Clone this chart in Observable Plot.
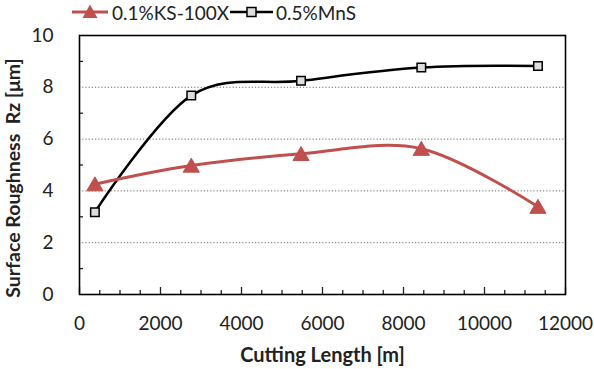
<!DOCTYPE html>
<html>
<head>
<meta charset="utf-8">
<script src="https://cdn.jsdelivr.net/npm/d3@7"></script>
<script src="https://cdn.jsdelivr.net/npm/@observablehq/plot@0.6"></script>
<style>
  body { margin: 0; background: #fff; font-family: Lato, "Open Sans", sans-serif; }
  #legend { position: relative; height: 24px; width: 594px; font-size: 19px; color: #222; }
  #legend .item { position: absolute; top: 0; height: 24px; display: flex; align-items: center; }
  #legend svg { display: block; }
</style>
</head>
<body>
<div id="legend"></div>
<div id="chart"></div>
<script>
// Data
const cuttingLength = [380, 2760, 5470, 8440, 11320];
const ks100x = [4.26, 4.98, 5.43, 5.63, 3.39];
const mns = [3.18, 7.68, 8.25, 8.76, 8.82];
const seriesNames = ["0.1%KS-100X", "0.5%MnS"];
const xTickValues = [0, 2000, 4000, 6000, 8000, 10000, 12000];
const xMinorTicks = d3.range(500, 12000, 500).filter(v => v % 2000 !== 0);
const yTickValues = [0, 2, 4, 6, 8, 10];
const yGridValues = [2, 4, 6, 8];
const yMinorTicks = [1, 3, 5, 7, 9];
const xTitle = "Cutting Length [m]";
const yTitle = "Surface Roughness  Rz [μm]";

const red = "#c0504d";

const ksData = cuttingLength.map((x, i) => ({x, y: ks100x[i]}));
const mnsData = cuttingLength.map((x, i) => ({x, y: mns[i]}));

// Legend (HTML above the SVG)
const legend = document.getElementById("legend");
legend.innerHTML = `
  <div class="item" style="left:71px">
    <svg width="38" height="24"><line x1="1" x2="37" y1="12" y2="12" stroke="${red}" stroke-width="3"/>
    <polygon points="19,4.5 26.5,18 11.5,18" fill="${red}"/></svg>
    <span style="margin-left:3px">${seriesNames[0]}</span>
  </div>
  <div class="item" style="left:229px">
    <svg width="45" height="24"><line x1="1" x2="44" y1="12" y2="12" stroke="#000" stroke-width="2.5"/>
    <rect x="18" y="7.5" width="9" height="9" fill="#ddd" stroke="#000" stroke-width="1.5"/></svg>
    <span style="margin-left:2px">${seriesNames[1]}</span>
  </div>`;

const chart = Plot.plot({
  width: 594,
  height: 345,
  marginTop: 11,
  marginBottom: 75,
  marginLeft: 79,
  marginRight: 29,
  style: {fontFamily: "Lato, 'Open Sans', sans-serif", fontSize: "19px", color: "#222", background: "#fff"},
  x: {domain: [0, 12000]},
  y: {domain: [0, 10]},
  marks: [
    Plot.gridY(yGridValues, {stroke: "#8c8c8c", strokeOpacity: 1, strokeWidth: 1.2, strokeDasharray: "1.2,2"}),
    Plot.axisX(xTickValues, {tickSize: 0, tickPadding: 22, tickFormat: d => String(d), label: null}),
    Plot.axisX(xTickValues, {tickSize: -7, tickFormat: () => "", label: null, strokeWidth: 1.3}),
    Plot.axisX(xMinorTicks, {tickSize: -4, tickFormat: () => "", label: null, strokeWidth: 1.3}),
    Plot.axisY(yTickValues, {tickSize: 0, tickPadding: 26, tickFormat: d => String(d), label: null}),
    Plot.axisY(yMinorTicks, {tickSize: -4, tickFormat: () => "", label: null, strokeWidth: 1.3}),
    Plot.frame({stroke: "#000", strokeWidth: 1.6}),
    Plot.line(mnsData, {x: "x", y: "y", stroke: "#000", strokeWidth: 2.5, curve: "cardinal", tension: 0}),
    Plot.line(ksData, {x: "x", y: "y", stroke: red, strokeWidth: 3, curve: "cardinal", tension: 0}),
    Plot.dot(mnsData, {x: "x", y: "y", symbol: "square", r: 4.8, fill: "#ddd", stroke: "#000", strokeWidth: 1.5}),
    Plot.dot(ksData, {x: "x", y: "y", symbol: "triangle", r: 6, fill: red, stroke: red, strokeWidth: 1, dy: 2}),
    Plot.text([xTitle], {frameAnchor: "bottom", lineAnchor: "middle", textAnchor: "middle", dy: 61, text: d => d, fontWeight: "bold", fontSize: 20, fill: "#222"}),
    Plot.text([yTitle], {frameAnchor: "left", lineAnchor: "middle", textAnchor: "middle", dx: -66, dy: 13, rotate: -90, text: d => d, fontWeight: "bold", fontSize: 19.5, fill: "#222"})
  ]
});
document.getElementById("chart").appendChild(chart);
</script>
</body>
</html>
